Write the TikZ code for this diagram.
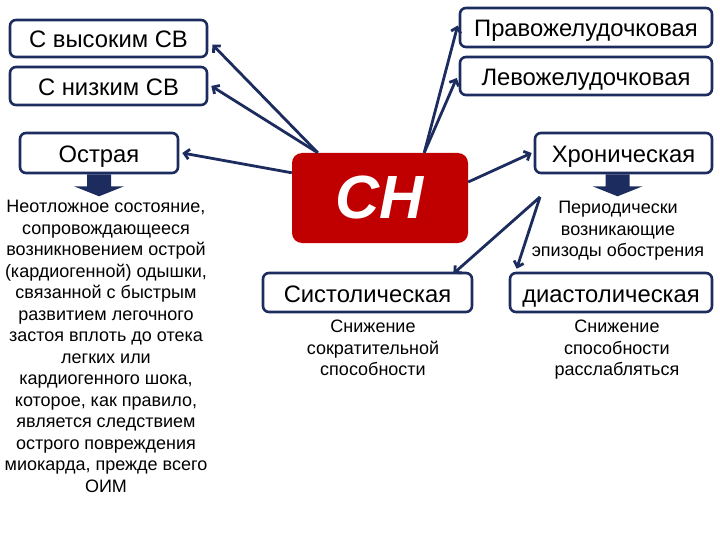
\documentclass[tikz,border=0pt]{standalone}
\usepackage{fontspec}
\setmainfont{Liberation Sans}
\usetikzlibrary{arrows.meta}
\definecolor{navy}{HTML}{1D2C5E}
\definecolor{chred}{HTML}{C00000}
\tikzstyle{catbox} = [
  rectangle, draw=navy, fill=white, line width=2.6pt,
  rounded corners=6pt, inner sep=0pt, text height=19pt, text depth=0pt,
  font=\fontsize{23.8}{26}\selectfont
]
\tikzstyle{note} = [align=center, inner sep=0pt, font=\fontsize{18}{21.5}\selectfont]
\tikzstyle{arrow} = [-{Straight Barb[length=5pt, width=10pt]}, navy, line width=2.8pt]
\tikzstyle{downarrow} = [fill=navy]

\begin{document}
\begin{tikzpicture}[x=1pt, y=-1pt]
  \useasboundingbox (0,0) rectangle (720,540);

  % Centre
  \node[rectangle, fill=chred, rounded corners=10pt, minimum width=176pt, minimum height=90pt,
        text=white, font=\fontsize{61}{61}\selectfont\bfseries\itshape] (ch) at (380, 198) {CH};

  % Categories
  \node[catbox, minimum width=197pt, minimum height=37pt] (high) at (108.5, 38.5) {С высоким СВ};
  \node[catbox, minimum width=197pt, minimum height=38pt] (low) at (108.5, 86) {С низким СВ};
  \node[catbox, minimum width=158pt, minimum height=40pt] (acute) at (99, 153) {Острая};
  \node[catbox, minimum width=252pt, minimum height=39pt] (right) at (586, 27.5) {Правожелудочковая};
  \node[catbox, minimum width=252pt, minimum height=38pt] (left) at (586, 76) {Левожелудочковая};
  \node[catbox, minimum width=177pt, minimum height=40pt] (chronic) at (623.5, 153) {Хроническая};
  \node[catbox, minimum width=209pt, minimum height=39pt] (systolic) at (367.5, 292.5) {Систолическая};
  \node[catbox, minimum width=202pt, minimum height=39pt] (diastolic) at (611, 292.5) {диастолическая};

  % Descriptions
  \node[note, anchor=north] (acutetext) at (106, 200) {Неотложное состояние,\\сопровождающееся\\возникновением острой\\(кардиогенной) одышки,\\связанной с быстрым\\развитием легочного\\застоя вплоть до отека\\легких или\\кардиогенного шока,\\которое, как правило,\\является следствием\\острого повреждения\\миокарда, прежде всего\\ОИМ};
  \node[note, anchor=north] (chronictext) at (618, 201) {Периодически\\возникающие\\эпизоды обострения};
  \node[note, anchor=north] (systext) at (373, 320) {Снижение\\сократительной\\способности};
  \node[note, anchor=north] (diatext) at (617, 320) {Снижение\\способности\\расслабляться};

  % Block arrows
  \fill[downarrow] ([xshift=-12pt]acute.south) -- ++(24,0) -- ++(0,12) -- ++(13,0)
    -- ++(-25,10) -- ++(-25,-10) -- ++(13,0) -- cycle;
  \fill[downarrow] ([xshift=-18pt]chronic.south) -- ++(24,0) -- ++(0,12) -- ++(13,0)
    -- ++(-25,10) -- ++(-25,-10) -- ++(13,0) -- cycle;

  % Connectors
  \draw[arrow] ([xshift=26pt]ch.north west) -- ([xshift=4pt, yshift=-6pt]high.east);
  \draw[arrow] ([xshift=26pt]ch.north west) -- ([xshift=3pt]low.east);
  \draw[arrow] ([yshift=-20pt]ch.north west) -- ([xshift=3pt]acute.east);
  \draw[arrow] ([xshift=-44pt]ch.north east) -- ([xshift=-1pt, yshift=2pt]right.west);
  \draw[arrow] ([xshift=-44pt]ch.north east) -- ([xshift=-2pt, yshift=-2pt]left.west);
  \draw[arrow] ([yshift=16pt]ch.east) -- ([xshift=-2pt]chronic.west);

  \coordinate (fork) at (540, 197);
  \draw[arrow] (fork) -- ([xshift=-20pt, yshift=-2pt]systolic.north east);
  \draw[arrow] (fork) -- ([xshift=8pt, yshift=3pt]diastolic.north west);

\end{tikzpicture}
\end{document}
